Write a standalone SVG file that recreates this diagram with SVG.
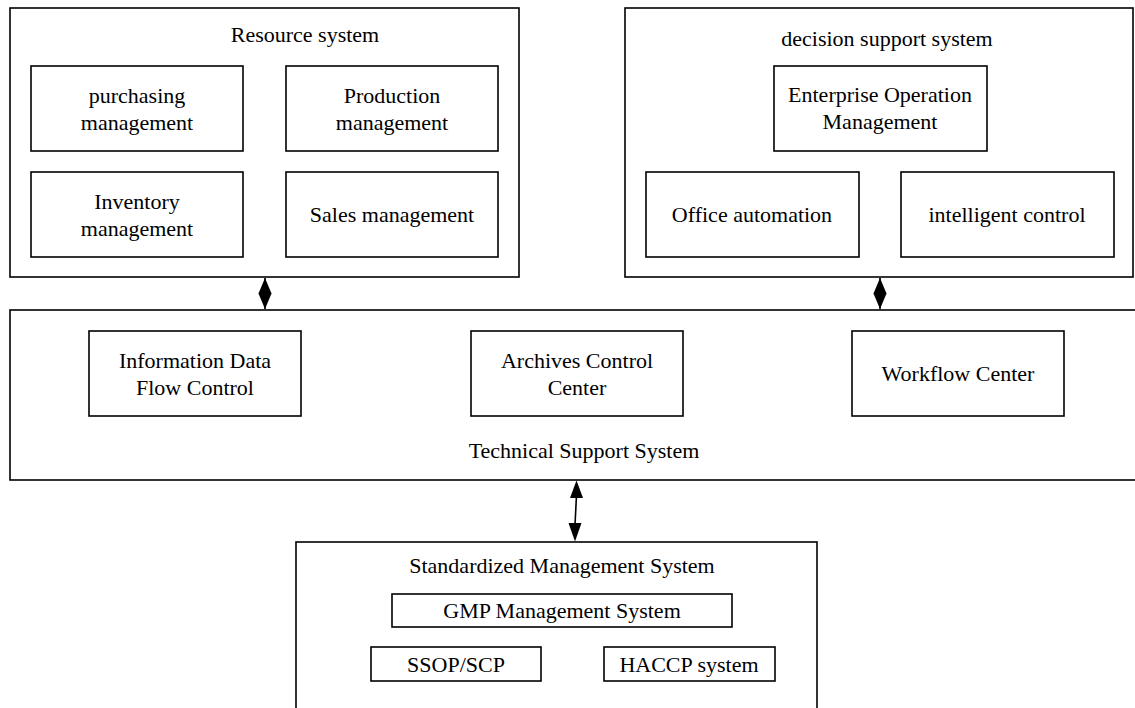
<svg xmlns="http://www.w3.org/2000/svg" width="1135" height="708" viewBox="0 0 1135 708">
  <style>
    .frame { fill: #fff; stroke: #000; stroke-width: 1.6; }
    .box { fill: #fff; stroke: #000; stroke-width: 1.6; }
    .lbl { font-family: "Liberation Serif", "Times New Roman", serif; font-size: 22px; fill: #000; text-anchor: middle; }
    .link { stroke: #000; stroke-width: 1.6; fill: none; }
    .head { fill: #000; stroke: none; }
  </style>
  <rect width="1135" height="708" fill="#fff"/>

  <!-- Resource system -->
  <g id="resource-system">
    <rect class="frame" x="10" y="8" width="509" height="269"/>
    <text class="lbl" x="305" y="42">Resource system</text>
  </g>
  <g id="purchasing-management">
    <rect class="box" x="31" y="66" width="212" height="85"/>
    <text class="lbl" x="137" y="103">purchasing</text>
    <text class="lbl" x="137" y="129.5">management</text>
  </g>
  <g id="production-management">
    <rect class="box" x="286" y="66" width="212" height="85"/>
    <text class="lbl" x="392" y="103">Production</text>
    <text class="lbl" x="392" y="129.5">management</text>
  </g>
  <g id="inventory-management">
    <rect class="box" x="31" y="172" width="212" height="85"/>
    <text class="lbl" x="137" y="209">Inventory</text>
    <text class="lbl" x="137" y="235.5">management</text>
  </g>
  <g id="sales-management">
    <rect class="box" x="286" y="172" width="212" height="85"/>
    <text class="lbl" x="392" y="222">Sales management</text>
  </g>

  <!-- Decision support system -->
  <g id="decision-support-system">
    <rect class="frame" x="625" y="8" width="508" height="269"/>
    <text class="lbl" x="887" y="46">decision support system</text>
  </g>
  <g id="enterprise-operation-management">
    <rect class="box" x="774" y="66" width="213" height="85"/>
    <text class="lbl" x="880" y="102">Enterprise Operation</text>
    <text class="lbl" x="880" y="129">Management</text>
  </g>
  <g id="office-automation">
    <rect class="box" x="646" y="172" width="213" height="85"/>
    <text class="lbl" x="752" y="222">Office automation</text>
  </g>
  <g id="intelligent-control">
    <rect class="box" x="901" y="172" width="213" height="85"/>
    <text class="lbl" x="1007" y="222">intelligent control</text>
  </g>

  <!-- Technical support system -->
  <g id="technical-support-system">
    <rect class="frame" x="10" y="310" width="1130" height="170"/>
    <text class="lbl" x="584" y="458">Technical Support System</text>
  </g>
  <g id="information-data-flow-control">
    <rect class="box" x="89" y="331" width="212" height="85"/>
    <text class="lbl" x="195" y="368">Information Data</text>
    <text class="lbl" x="195" y="395">Flow Control</text>
  </g>
  <g id="archives-control-center">
    <rect class="box" x="471" y="331" width="212" height="85"/>
    <text class="lbl" x="577" y="368">Archives Control</text>
    <text class="lbl" x="577" y="395">Center</text>
  </g>
  <g id="workflow-center">
    <rect class="box" x="852" y="331" width="212" height="85"/>
    <text class="lbl" x="958" y="381">Workflow Center</text>
  </g>

  <!-- Standardized management system -->
  <g id="standardized-management-system">
    <rect class="frame" x="296" y="542" width="521" height="180"/>
    <text class="lbl" x="562" y="573">Standardized Management System</text>
  </g>
  <g id="gmp-management-system">
    <rect class="box" x="392" y="594" width="340" height="33"/>
    <text class="lbl" x="562" y="618">GMP Management System</text>
  </g>
  <g id="ssop-scp">
    <rect class="box" x="371" y="647" width="170" height="34"/>
    <text class="lbl" x="456" y="672">SSOP/SCP</text>
  </g>
  <g id="haccp-system">
    <rect class="box" x="604" y="647" width="171" height="34"/>
    <text class="lbl" x="689" y="672">HACCP system</text>
  </g>

  <!-- Connectors -->
  <g id="connectors">
    <line class="link" x1="265" y1="278" x2="265" y2="309"/>
    <polygon class="head" points="265,278 271.5,293.5 265,309 258.5,293.5"/>
    <line class="link" x1="880" y1="278" x2="880" y2="309"/>
    <polygon class="head" points="880,278 886.5,293.5 880,309 873.5,293.5"/>
    <line class="link" x1="576.5" y1="495" x2="575" y2="525"/>
    <polygon class="head" points="576.5,480.5 583,498 570,498"/>
    <polygon class="head" points="575,541.5 568.5,523 581.5,523"/>
  </g>
</svg>
